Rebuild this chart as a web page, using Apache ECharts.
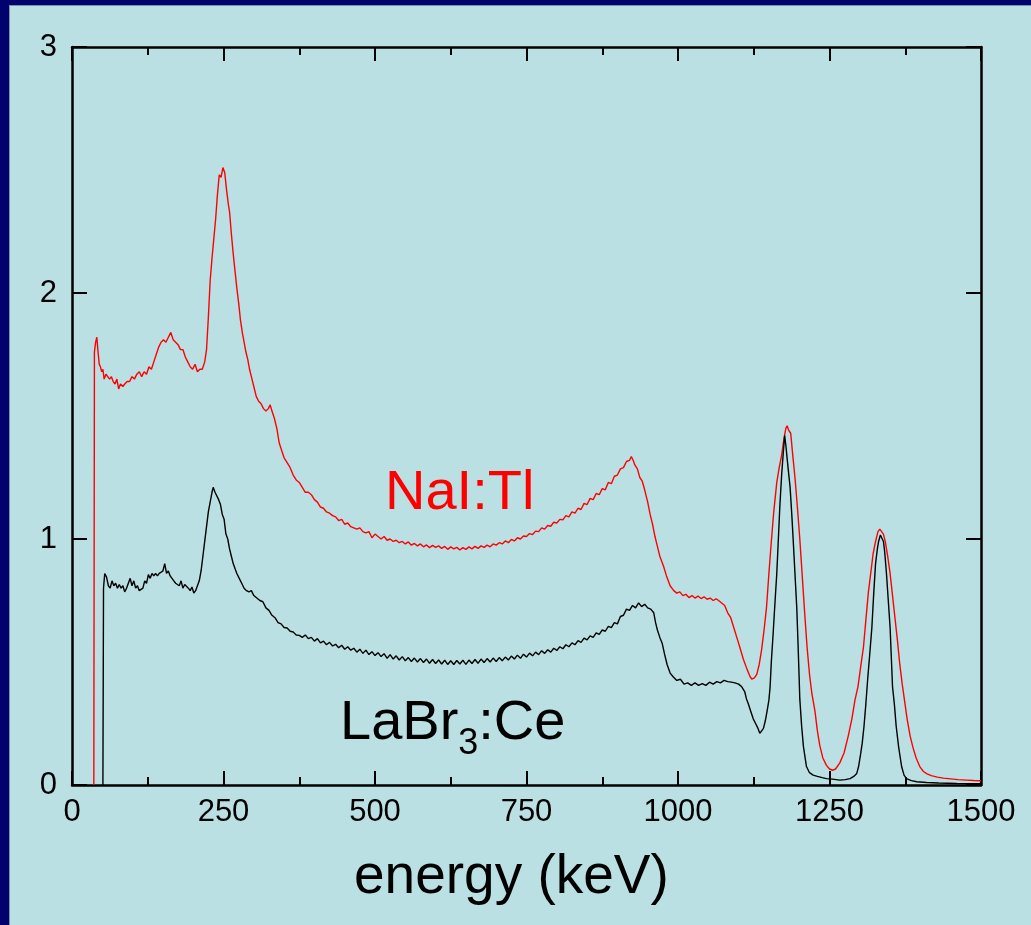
<!DOCTYPE html>
<html>
<head>
<meta charset="utf-8">
<title>NaI:Tl vs LaBr3:Ce spectra</title>
<script src="https://cdn.jsdelivr.net/npm/echarts@6/dist/echarts.min.js"></script>
<style>
  html, body { margin: 0; padding: 0; background: #bae0e3; }
  #chart { width: 1031px; height: 925px; }
</style>
</head>
<body>
<div id="chart"></div>
<script>
// Energy axis ticks (keV) and count axis ticks (arb. units)
const energyTicks = [0, 250, 500, 750, 1000, 1250, 1500];
const countTicks = [0, 1, 2, 3];

// NaI:Tl spectrum: [energy keV, counts]
const naiTl = [
  [36, 0], [37, 1.76], [39, 1.80], [41, 1.82], [43, 1.76], [45, 1.71], [47, 1.70], [49, 1.68],
  [51, 1.69], [53, 1.65], [56, 1.67], [59, 1.66], [62, 1.65], [65, 1.66], [68, 1.64], [71, 1.63],
  [74, 1.65], [77, 1.61], [80, 1.63], [84, 1.62], [87, 1.63], [91, 1.64], [95, 1.64], [99, 1.66],
  [103, 1.65], [107, 1.67], [111, 1.68], [115, 1.66], [119, 1.68], [123, 1.67], [127, 1.70],
  [131, 1.69], [135, 1.72], [139, 1.75], [143, 1.78], [147, 1.80], [151, 1.81], [155, 1.80],
  [159, 1.82], [163, 1.84], [167, 1.81], [171, 1.80], [175, 1.79], [179, 1.77], [183, 1.77],
  [187, 1.74], [191, 1.72], [195, 1.70], [199, 1.69], [203, 1.71], [207, 1.68], [211, 1.69],
  [215, 1.69], [219, 1.72], [222, 1.77], [225, 1.90], [228, 2.05], [231, 2.14], [234, 2.22],
  [237, 2.30], [240, 2.40], [243, 2.48], [246, 2.47], [249, 2.51], [252, 2.49], [255, 2.42],
  [258, 2.36], [260, 2.33], [263, 2.24], [266, 2.16], [269, 2.09], [272, 2.02], [275, 1.96],
  [278, 1.89], [281, 1.84], [284, 1.80], [287, 1.76], [290, 1.73], [293, 1.69], [296, 1.66],
  [300, 1.62], [304, 1.58], [308, 1.56], [312, 1.55], [316, 1.53], [320, 1.52], [324, 1.53],
  [327, 1.545], [330, 1.52], [334, 1.49], [338, 1.45], [342, 1.39], [346, 1.36], [350, 1.33],
  [355, 1.31], [360, 1.29], [365, 1.26], [370, 1.24], [375, 1.23], [380, 1.21], [385, 1.19],
  [390, 1.19], [395, 1.18], [400, 1.16], [405, 1.15], [410, 1.13], [415, 1.125], [420, 1.11],
  [425, 1.105], [430, 1.095], [435, 1.09], [440, 1.075], [445, 1.08], [450, 1.06], [455, 1.065],
  [460, 1.05], [465, 1.045], [470, 1.04], [475, 1.045], [480, 1.03], [485, 1.025], [490, 1.03],
  [495, 1.005], [500, 1.02], [505, 1.01], [510, 1.0], [515, 1.01], [520, 0.995], [525, 1.0],
  [530, 0.99], [535, 0.995], [540, 0.985], [545, 0.99], [550, 0.98], [555, 0.988], [560, 0.975],
  [565, 0.982], [570, 0.972], [575, 0.98], [580, 0.968], [585, 0.976], [590, 0.965], [595, 0.974],
  [600, 0.966], [605, 0.972], [610, 0.962], [615, 0.97], [620, 0.958], [625, 0.968], [630, 0.96],
  [635, 0.966], [640, 0.955], [645, 0.965], [650, 0.958], [655, 0.968], [660, 0.96], [665, 0.97],
  [670, 0.962], [675, 0.972], [680, 0.966], [685, 0.975], [690, 0.968], [695, 0.98], [700, 0.975],
  [705, 0.985], [710, 0.98], [715, 0.992], [720, 0.985], [725, 0.998], [730, 0.992], [735, 1.005],
  [740, 1.0], [745, 1.012], [750, 1.01], [755, 1.022], [760, 1.018], [765, 1.032], [770, 1.03],
  [775, 1.045], [780, 1.04], [785, 1.055], [790, 1.052], [795, 1.068], [800, 1.065], [805, 1.08],
  [810, 1.078], [815, 1.095], [820, 1.09], [825, 1.11], [830, 1.105], [835, 1.125], [840, 1.12],
  [845, 1.145], [850, 1.14], [855, 1.165], [860, 1.16], [865, 1.185], [870, 1.18], [875, 1.205],
  [880, 1.2], [885, 1.23], [890, 1.225], [895, 1.255], [900, 1.26], [905, 1.285], [910, 1.29],
  [915, 1.315], [920, 1.32], [923, 1.335], [926, 1.32], [929, 1.30], [933, 1.285], [937, 1.25],
  [941, 1.235], [945, 1.20], [950, 1.15], [954, 1.10], [958, 1.06], [962, 1.01], [966, 0.97],
  [970, 0.93], [976, 0.89], [981, 0.85], [987, 0.81], [993, 0.79], [998, 0.78], [1003, 0.785],
  [1008, 0.77], [1013, 0.775], [1018, 0.762], [1023, 0.77], [1028, 0.76], [1033, 0.768],
  [1038, 0.758], [1043, 0.765], [1048, 0.755], [1053, 0.76], [1058, 0.75], [1063, 0.757],
  [1068, 0.748], [1072, 0.74], [1077, 0.73], [1082, 0.70], [1087, 0.68], [1092, 0.64],
  [1097, 0.60], [1102, 0.56], [1108, 0.51], [1114, 0.47], [1119, 0.44], [1122, 0.43],
  [1126, 0.435], [1130, 0.45], [1134, 0.49], [1138, 0.55], [1142, 0.63], [1146, 0.72],
  [1150, 0.86], [1154, 0.99], [1158, 1.11], [1163, 1.23], [1167, 1.29], [1171, 1.34],
  [1175, 1.41], [1178, 1.45], [1180, 1.46], [1183, 1.44], [1186, 1.43], [1189, 1.35],
  [1193, 1.25], [1197, 1.13], [1201, 1.00], [1205, 0.85], [1209, 0.70], [1213, 0.56],
  [1217, 0.45], [1221, 0.37], [1226, 0.30], [1230, 0.22], [1234, 0.16], [1239, 0.11],
  [1245, 0.08], [1250, 0.065], [1255, 0.06], [1260, 0.065], [1267, 0.09], [1274, 0.13],
  [1281, 0.20], [1287, 0.27], [1292, 0.345], [1297, 0.40], [1302, 0.49], [1306, 0.56],
  [1310, 0.67], [1314, 0.78], [1318, 0.86], [1322, 0.94], [1326, 0.99], [1330, 1.03],
  [1333, 1.04], [1336, 1.04], [1339, 1.02], [1342, 0.99], [1346, 0.93], [1350, 0.86],
  [1354, 0.77], [1358, 0.68], [1362, 0.59], [1366, 0.49], [1370, 0.41], [1374, 0.34],
  [1378, 0.27], [1383, 0.20], [1388, 0.15], [1393, 0.11], [1399, 0.075], [1405, 0.055],
  [1411, 0.045], [1418, 0.038], [1428, 0.032], [1438, 0.028], [1450, 0.025], [1462, 0.022],
  [1476, 0.02], [1488, 0.018], [1500, 0.017]
];

// LaBr3:Ce spectrum: [energy keV, counts]
const labrCe = [
  [51, 0], [52, 0.80], [54, 0.86], [57, 0.845], [60, 0.81], [63, 0.80], [66, 0.83], [69, 0.81],
  [72, 0.82], [75, 0.80], [78, 0.815], [81, 0.80], [84, 0.81], [87, 0.785], [90, 0.80], [93, 0.82],
  [96, 0.84], [99, 0.81], [102, 0.83], [105, 0.80], [108, 0.81], [111, 0.79], [114, 0.79],
  [117, 0.80], [120, 0.83], [123, 0.82], [126, 0.855], [129, 0.84], [132, 0.86], [135, 0.85],
  [138, 0.86], [141, 0.85], [144, 0.86], [147, 0.855], [150, 0.87], [153, 0.90], [156, 0.86],
  [159, 0.87], [162, 0.85], [165, 0.84], [168, 0.83], [171, 0.82], [174, 0.815], [177, 0.81],
  [180, 0.83], [183, 0.80], [186, 0.815], [189, 0.81], [192, 0.80], [195, 0.79], [198, 0.805],
  [201, 0.78], [204, 0.79], [207, 0.79], [210, 0.83], [213, 0.87], [216, 0.93], [219, 0.99],
  [222, 1.05], [225, 1.11], [228, 1.15], [231, 1.19], [233, 1.21], [236, 1.19], [239, 1.185],
  [242, 1.16], [245, 1.14], [248, 1.10], [251, 1.08], [254, 1.02], [257, 1.00], [260, 0.96],
  [263, 0.93], [266, 0.90], [269, 0.88], [272, 0.86], [276, 0.84], [280, 0.82], [284, 0.80],
  [288, 0.79], [292, 0.785], [296, 0.79], [300, 0.77], [305, 0.76], [310, 0.75], [315, 0.745],
  [320, 0.72], [325, 0.71], [330, 0.69], [335, 0.68], [340, 0.66], [345, 0.655], [350, 0.64],
  [355, 0.638], [360, 0.625], [365, 0.622], [370, 0.61], [375, 0.608], [380, 0.60], [385, 0.61],
  [390, 0.595], [395, 0.60], [400, 0.585], [405, 0.595], [410, 0.578], [415, 0.585], [420, 0.57],
  [425, 0.58], [430, 0.565], [435, 0.572], [440, 0.558], [445, 0.568], [450, 0.552], [455, 0.562],
  [460, 0.548], [465, 0.556], [470, 0.54], [475, 0.552], [480, 0.535], [485, 0.548], [490, 0.53],
  [495, 0.542], [500, 0.526], [505, 0.538], [510, 0.522], [515, 0.534], [520, 0.515], [525, 0.53],
  [530, 0.512], [535, 0.525], [540, 0.508], [545, 0.522], [550, 0.505], [555, 0.518], [560, 0.502],
  [565, 0.516], [570, 0.5], [575, 0.514], [580, 0.498], [585, 0.512], [590, 0.495], [595, 0.51],
  [600, 0.494], [605, 0.508], [610, 0.492], [615, 0.507], [620, 0.49], [625, 0.505], [630, 0.49],
  [635, 0.506], [640, 0.492], [645, 0.507], [650, 0.49], [655, 0.508], [660, 0.494], [665, 0.51],
  [670, 0.495], [675, 0.512], [680, 0.498], [685, 0.514], [690, 0.5], [695, 0.516], [700, 0.502],
  [705, 0.518], [710, 0.505], [715, 0.52], [720, 0.508], [725, 0.524], [730, 0.512], [735, 0.528],
  [740, 0.515], [745, 0.532], [750, 0.52], [755, 0.536], [760, 0.525], [765, 0.54], [770, 0.53],
  [775, 0.546], [780, 0.535], [785, 0.55], [790, 0.54], [795, 0.556], [800, 0.547], [805, 0.562],
  [810, 0.554], [815, 0.57], [820, 0.562], [825, 0.578], [830, 0.57], [835, 0.587], [840, 0.58],
  [845, 0.597], [850, 0.59], [855, 0.606], [860, 0.6], [865, 0.618], [870, 0.612], [875, 0.63],
  [880, 0.625], [885, 0.645], [890, 0.64], [895, 0.66], [900, 0.655], [905, 0.685], [910, 0.69],
  [915, 0.715], [920, 0.71], [925, 0.73], [930, 0.72], [935, 0.74], [940, 0.725], [945, 0.735],
  [950, 0.72], [955, 0.715], [960, 0.70], [963, 0.66], [966, 0.63], [970, 0.60], [974, 0.575],
  [978, 0.53], [982, 0.49], [987, 0.455], [992, 0.44], [998, 0.425], [1004, 0.43], [1010, 0.41],
  [1016, 0.415], [1022, 0.405], [1028, 0.415], [1034, 0.405], [1040, 0.412], [1046, 0.405],
  [1052, 0.418], [1058, 0.41], [1064, 0.42], [1070, 0.415], [1076, 0.425], [1082, 0.42],
  [1088, 0.418], [1094, 0.415], [1100, 0.41], [1105, 0.40], [1110, 0.38], [1113, 0.35],
  [1116, 0.33], [1120, 0.30], [1124, 0.27], [1128, 0.25], [1132, 0.23], [1135, 0.21],
  [1138, 0.22], [1141, 0.23], [1144, 0.26], [1147, 0.30], [1150, 0.345], [1152, 0.40],
  [1154, 0.50], [1157, 0.616], [1160, 0.74], [1163, 0.86], [1166, 1.02], [1168, 1.13],
  [1171, 1.26], [1174, 1.36], [1176, 1.42], [1178, 1.38], [1180, 1.33], [1182, 1.28],
  [1185, 1.21], [1188, 1.09], [1190, 1.00], [1193, 0.86], [1196, 0.72], [1198, 0.58],
  [1200, 0.43], [1201, 0.35], [1204, 0.24], [1207, 0.156], [1212, 0.075], [1217, 0.05],
  [1223, 0.04], [1230, 0.035], [1238, 0.03], [1245, 0.026], [1255, 0.024], [1267, 0.02],
  [1276, 0.022], [1284, 0.026], [1290, 0.035], [1295, 0.047], [1298, 0.075], [1301, 0.12],
  [1304, 0.17], [1307, 0.24], [1310, 0.33], [1313, 0.43], [1316, 0.52], [1320, 0.643],
  [1323, 0.78], [1326, 0.90], [1329, 0.96], [1331, 0.99], [1334, 1.016], [1336, 1.01],
  [1339, 0.99], [1341, 0.95], [1344, 0.86], [1347, 0.75], [1350, 0.64], [1352, 0.52],
  [1354, 0.40], [1357, 0.33], [1360, 0.24], [1364, 0.156], [1369, 0.075], [1373, 0.04],
  [1377, 0.026], [1385, 0.018], [1394, 0.013], [1410, 0.01], [1430, 0.008], [1460, 0.006],
  [1500, 0.005]
];

const chart = echarts.init(document.getElementById('chart'), null, { renderer: 'canvas' });

const labelFont = { fontFamily: 'Liberation Sans, Arial, sans-serif', fontSize: 31, color: '#000' };
const frameLine = { show: true, onZero: false, lineStyle: { color: '#000', width: 2.5 } };
const plainNumber = function (v) { return String(v); };

function xAxisDef(position, showLabels) {
  return {
    type: 'value', position: position,
    min: energyTicks[0], max: energyTicks[energyTicks.length - 1],
    interval: energyTicks[1] - energyTicks[0],
    axisLine: frameLine,
    axisTick: { show: true, inside: true, length: 14, lineStyle: { color: '#000', width: 2 } },
    minorTick: { show: true, splitNumber: 2, length: 8, lineStyle: { color: '#000', width: 2 } },
    axisLabel: Object.assign({ show: showLabels, margin: 12, formatter: plainNumber }, labelFont),
    splitLine: { show: false }
  };
}

function yAxisDef(position, showLabels) {
  return {
    type: 'value', position: position,
    min: countTicks[0], max: countTicks[countTicks.length - 1],
    interval: countTicks[1] - countTicks[0],
    axisLine: frameLine,
    axisTick: { show: true, inside: true, length: 15, lineStyle: { color: '#000', width: 2 } },
    axisLabel: Object.assign({ show: showLabels, margin: 15, formatter: plainNumber }, labelFont),
    splitLine: { show: false }
  };
}

chart.setOption({
  backgroundColor: '#bae0e3',
  animation: false,
  grid: { left: 72, right: 50, top: 47, bottom: 140, containLabel: false },
  xAxis: [xAxisDef('bottom', true), xAxisDef('top', false)],
  yAxis: [yAxisDef('left', true), yAxisDef('right', false)],
  series: [
    {
      name: 'NaI:Tl', type: 'line', data: naiTl, showSymbol: false, sampling: 'none',
      lineStyle: { color: '#ff0000', width: 1.4 }, z: 2
    },
    {
      name: 'LaBr3:Ce', type: 'line', data: labrCe, showSymbol: false, sampling: 'none',
      lineStyle: { color: '#000000', width: 1.4 }, z: 3
    }
  ],
  graphic: [
    // dark frame along the left and top edges
    { type: 'rect', left: 0, top: 0, shape: { width: 9, height: 925 }, style: { fill: '#02026e' }, z: 10 },
    { type: 'rect', left: 0, top: 0, shape: { width: 1031, height: 5 }, style: { fill: '#02026e' }, z: 10 },
    { type: 'rect', left: 9, top: 5, shape: { width: 1, height: 920 }, style: { fill: '#7a8fa8' }, z: 10 },
    { type: 'rect', left: 9, top: 5, shape: { width: 1022, height: 1 }, style: { fill: '#7a8fa8' }, z: 10 },
    {
      type: 'text', left: 385, top: 466,
      style: { text: 'NaI:Tl', fill: '#ff0000', font: '56px "Liberation Sans", Arial, sans-serif' }, z: 10
    },
    {
      type: 'text', left: 340, top: 696,
      style: {
        text: '{m|LaBr}{s|3}{m|:Ce}',
        rich: {
          m: { fontSize: 56, fontFamily: 'Liberation Sans, Arial, sans-serif', fill: '#000', verticalAlign: 'top', lineHeight: 62 },
          s: { fontSize: 36, fontFamily: 'Liberation Sans, Arial, sans-serif', fill: '#000', padding: [30, 0, 0, 0], lineHeight: 62, verticalAlign: 'top' }
        }
      }, z: 10
    },
    {
      type: 'text', left: 354, top: 850,
      style: { text: 'energy (keV)', fill: '#000', font: '55px "Liberation Sans", Arial, sans-serif' }, z: 10
    }
  ]
});
</script>
</body>
</html>
